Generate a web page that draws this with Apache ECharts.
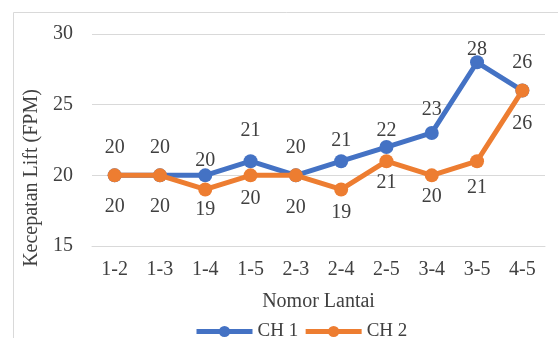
<!DOCTYPE html>
<html>
<head>
<meta charset="utf-8">
<script src="https://cdn.jsdelivr.net/npm/echarts@6/dist/echarts.min.js"></script>
<style>
  html, body { margin: 0; padding: 0; background: #fff; }
  #chart { width: 558px; height: 338px; }
</style>
</head>
<body>
<div id="chart"></div>
<script>
// Floor pairs (Nomor Lantai) and lift speed readings for both channels
var categories = ['1-2', '1-3', '1-4', '1-5', '2-3', '2-4', '2-5', '3-4', '3-5', '4-5'];
var ch1 = [20, 20, 20, 21, 20, 21, 22, 23, 28, 26];
var ch2 = [20, 20, 19, 20, 20, 19, 21, 20, 21, 26];
var yTicks = [15, 20, 25, 30];

// Vertical placement of each value label, in px from its marker centre
var ch1LabelLift = [28, 28, 15, 30, 28, 20, 16, 23, 13, 28];
var ch2LabelDrop = [31, 31, 20, 23, 32, 23, 22, 21, 27, 33];

var FONT = '"Liberation Serif", "Times New Roman", serif';
var TEXT = '#404040';
var LABEL = { show: true, position: 'inside', fontFamily: FONT, fontSize: 20, color: TEXT };

function withLabels(values, shifts, sign) {
  return values.map(function (v, i) {
    return { value: v, label: { offset: [0, sign * shifts[i]] } };
  });
}

var chart = echarts.init(document.getElementById('chart'), null, { renderer: 'canvas' });

chart.setOption({
  animation: false,
  backgroundColor: '#fff',
  graphic: [{
    type: 'rect',
    shape: { x: 13.5, y: 12.5, width: 700, height: 500 },
    style: { fill: 'none', stroke: '#d9d9d9', lineWidth: 1 },
    silent: true
  }],
  grid: { left: 92, right: 13, top: 34, bottom: 92 },
  legend: {
    top: 322,
    left: 194,
    padding: 0,
    itemWidth: 56,
    itemHeight: 14,
    itemGap: 5,
    lineStyle: { width: 5 },
    textStyle: { fontFamily: FONT, fontSize: 19, color: TEXT },
    data: ['CH 1', 'CH 2']
  },
  xAxis: {
    type: 'category',
    data: categories,
    boundaryGap: true,
    name: 'Nomor Lantai',
    nameLocation: 'middle',
    nameGap: 46,
    nameTextStyle: { fontFamily: FONT, fontSize: 20, color: TEXT, verticalAlign: 'top' },
    axisLine: { show: true, lineStyle: { color: '#d9d9d9', width: 1 } },
    axisTick: { show: false },
    axisLabel: { fontFamily: FONT, fontSize: 20, color: TEXT, margin: 14 }
  },
  yAxis: {
    type: 'value',
    min: yTicks[0],
    max: yTicks[yTicks.length - 1],
    interval: 5,
    name: 'Kecepatan Lift (FPM)',
    nameLocation: 'middle',
    nameGap: 47,
    nameTextStyle: { fontFamily: FONT, fontSize: 20, color: TEXT, padding: [0, 76, 0, 0] },
    axisLine: { show: false },
    axisTick: { show: false },
    splitLine: { lineStyle: { color: '#d9d9d9', width: 1 } },
    axisLabel: { fontFamily: FONT, fontSize: 20, color: TEXT, margin: 19 }
  },
  series: [
    {
      name: 'CH 1',
      type: 'line',
      data: withLabels(ch1, ch1LabelLift, -1),
      color: '#4472C4',
      symbol: 'circle',
      symbolSize: 14,
      lineStyle: { width: 5 },
      label: LABEL,
      z: 2
    },
    {
      name: 'CH 2',
      type: 'line',
      data: withLabels(ch2, ch2LabelDrop, 1),
      color: '#ED7D31',
      symbol: 'circle',
      symbolSize: 14,
      lineStyle: { width: 5 },
      label: LABEL,
      z: 3
    }
  ]
});
</script>
</body>
</html>
